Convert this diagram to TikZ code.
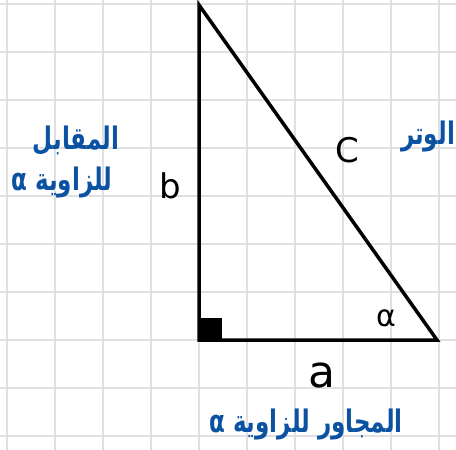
\documentclass[tikz,border=0pt]{standalone}
\usepackage{fontspec}
\setmainfont{DejaVu Sans}
\newfontfamily\arabicfont[Script=Arabic]{DejaVu Sans}
\TeXXeTstate=1
\definecolor{gridgray}{RGB}{224,224,224}
\definecolor{inkblue}{RGB}{12,82,162}
\tikzset{
  gridline/.style={draw=gridgray, line width=2pt},
  side/.style={draw=black, line width=3.5pt, line join=miter},
  latinlbl/.style={inner sep=0pt, text=black},
  arlbl/.style={inner sep=0pt, text=inkblue, yscale=1.35, transform shape, font=\arabicfont\bfseries\fontsize{23}{26}\selectfont},
}
\begin{document}
\begin{tikzpicture}[x=1pt,y=-1pt]
\useasboundingbox (0,0) rectangle (456,450);
\fill[white] (0,0) rectangle (456,450);
% grid
\foreach \gx in {7,55,...,439} \draw[gridline] (\gx,0) -- (\gx,450);
\foreach \gy in {4,52,...,436} \draw[gridline] (0,\gy) -- (456,\gy);
% triangle
\coordinate (top) at (199,5);
\coordinate (rt) at (199,340);
\coordinate (rv) at (437,340);
\fill[black] (rt) rectangle (222,318);
\draw[side] (top) -- (rt) -- (rv) -- cycle;
% latin labels
\node[latinlbl, font=\fontsize{34}{36}\selectfont] (lb) at (170,186) {b};
\node[latinlbl, font=\fontsize{34}{36}\selectfont] (lc) at (347,150) {C};
\node[latinlbl, font=\fontsize{44}{46}\selectfont] (la) at (322,375) {a};
\node[latinlbl, font=\fontsize{30}{32}\selectfont] (lal) at (386,318) {α};
% arabic labels
\node[arlbl] (hyp) at (428,136) {\beginR الوتر\endR};
\node[arlbl] (opp1) at (76,141) {\beginR المقابل\endR};
\node[arlbl] (opp2) at (62,182) {\beginR للزاوية α\endR};
\node[arlbl] (adj) at (306,424) {\beginR المجاور للزاوية α\endR};
\end{tikzpicture}
\end{document}
